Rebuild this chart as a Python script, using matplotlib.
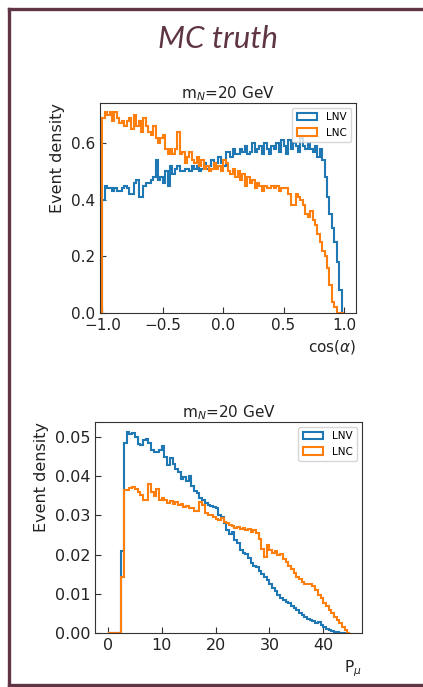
import matplotlib
matplotlib.use("Agg")
import matplotlib.pyplot as plt
import numpy as np
from matplotlib.lines import Line2D

# cos(alpha) histogram, 100 bins from -1 to 1
cos_edges = np.linspace(-1, 1, 101)
cos_lnv = [0.40, 0.45, 0.44, 0.44, 0.43, 0.44, 0.43, 0.43, 0.44, 0.45,
           0.44, 0.42, 0.42, 0.46, 0.47, 0.41, 0.41, 0.45, 0.46, 0.46,
           0.47, 0.48, 0.54, 0.47, 0.48, 0.46, 0.50, 0.45, 0.52, 0.49,
           0.51, 0.52, 0.50, 0.50, 0.51, 0.51, 0.50, 0.52, 0.51, 0.52,
           0.50, 0.51, 0.53, 0.51, 0.52, 0.54, 0.52, 0.53, 0.55, 0.53,
           0.52, 0.57, 0.57, 0.55, 0.58, 0.56, 0.56, 0.58, 0.57, 0.59,
           0.56, 0.57, 0.60, 0.57, 0.58, 0.59, 0.56, 0.60, 0.58, 0.56,
           0.59, 0.58, 0.60, 0.57, 0.61, 0.59, 0.56, 0.61, 0.58, 0.60,
           0.59, 0.57, 0.62, 0.59, 0.58, 0.60, 0.58, 0.57, 0.59, 0.55,
           0.58, 0.54, 0.48, 0.41, 0.35, 0.30, 0.25, 0.18, 0.08, 0.0]
cos_lnc = [0.69, 0.71, 0.70, 0.71, 0.68, 0.71, 0.69, 0.67, 0.68, 0.66,
           0.68, 0.69, 0.65, 0.70, 0.66, 0.68, 0.64, 0.69, 0.66, 0.64,
           0.63, 0.66, 0.62, 0.60, 0.62, 0.63, 0.58, 0.56, 0.58, 0.56,
           0.58, 0.64, 0.56, 0.57, 0.53, 0.55, 0.57, 0.54, 0.53, 0.55,
           0.52, 0.54, 0.51, 0.52, 0.50, 0.51, 0.53, 0.51, 0.52, 0.50,
           0.54, 0.53, 0.50, 0.49, 0.51, 0.48, 0.50, 0.47, 0.49, 0.45,
           0.48, 0.46, 0.47, 0.44, 0.46, 0.45, 0.43, 0.45, 0.44, 0.44,
           0.45, 0.44, 0.45, 0.43, 0.44, 0.44, 0.44, 0.42, 0.38, 0.38,
           0.42, 0.41, 0.40, 0.38, 0.35, 0.34, 0.36, 0.33, 0.31, 0.28,
           0.25, 0.22, 0.20, 0.16, 0.10, 0.04, 0.02, 0.0, 0.0, 0.0]

# muon momentum histogram, 90 bins from 0 to 45
p_edges = np.linspace(0, 45, 91)
p_lnv = [0, 0, 0, 0, 0,
         0.0210, 0.0485, 0.0513, 0.0508, 0.0510, 0.0500, 0.0483, 0.0479, 0.0492, 0.0494,
         0.0485, 0.0466, 0.0462, 0.0462, 0.0466, 0.0478, 0.0450, 0.0428, 0.0445, 0.0430,
         0.0418, 0.0410, 0.0393, 0.0398, 0.0388, 0.0400, 0.0375, 0.0362, 0.0358, 0.0345,
         0.0340, 0.0332, 0.0326, 0.0323, 0.0322, 0.0318, 0.0300, 0.0296, 0.0280, 0.0262,
         0.0252, 0.0258, 0.0236, 0.0230, 0.0212, 0.0203, 0.0201, 0.0192, 0.0178, 0.0172,
         0.0168, 0.0158, 0.0150, 0.0144, 0.0136, 0.0125, 0.0115, 0.0106, 0.0098, 0.0090,
         0.0084, 0.0080, 0.0076, 0.0070, 0.0064, 0.0059, 0.0052, 0.0046, 0.0042, 0.0036,
         0.0032, 0.0030, 0.0026, 0.0027, 0.0020, 0.0016, 0.0010, 0.0007, 0.0004, 0.0003,
         0.0002, 0.0001, 0.0001, 0.0, 0.0]
p_lnc = [0, 0, 0, 0, 0,
         0.0144, 0.0365, 0.0364, 0.0369, 0.0373, 0.0366, 0.0360, 0.0352, 0.0338, 0.0340,
         0.0380, 0.0360, 0.0350, 0.0368, 0.0340, 0.0345, 0.0338, 0.0332, 0.0336, 0.0330,
         0.0333, 0.0326, 0.0330, 0.0322, 0.0325, 0.0318, 0.0320, 0.0312, 0.0310, 0.0334,
         0.0326, 0.0305, 0.0300, 0.0302, 0.0295, 0.0290, 0.0288, 0.0294, 0.0282, 0.0280,
         0.0276, 0.0272, 0.0268, 0.0270, 0.0265, 0.0268, 0.0262, 0.0266, 0.0258, 0.0262,
         0.0255, 0.0240, 0.0215, 0.0195, 0.0225, 0.0212, 0.0205, 0.0210, 0.0198, 0.0202,
         0.0188, 0.0180, 0.0170, 0.0162, 0.0152, 0.0144, 0.0138, 0.0130, 0.0126, 0.0124,
         0.0126, 0.0120, 0.0110, 0.0098, 0.0088, 0.0076, 0.0068, 0.0058, 0.0050, 0.0040,
         0.0034, 0.0025, 0.0016, 0.0008, 0.0]

title_txt = r"m$_N$=20 GeV"
frame_col = "#5f3545"
text_col = "#222222"

fig = plt.figure(figsize=(4.23, 6.87), dpi=100)

fig.text(0.515, 0.930, "MC truth", fontsize=22.5, fontstyle="italic",
         family="Lato", color=frame_col, ha="center", va="baseline")

# frame around the panel
for xs, ys in [([8.5, 423], [678.5, 678.5]), ([8.5, 8.5], [2, 678.5]), ([8.5, 423], [2.5, 2.5])]:
    fig.add_artist(Line2D([x / 423 for x in xs], [y / 687 for y in ys],
                          color=frame_col, lw=2.4, transform=fig.transFigure))


def draw(ax, edges, lnv, lnc, xlim, ylim, xlabel, xticks, yticks, yfmt, tsize):
    ax.hist(edges[:-1], bins=edges, weights=lnv, histtype="step", lw=1.5,
            color="tab:blue", label="LNV")
    ax.hist(edges[:-1], bins=edges, weights=lnc, histtype="step", lw=1.5,
            color="tab:orange", label="LNC")
    ax.set_xlim(*xlim)
    ax.set_ylim(*ylim)
    ax.set_xticks(xticks)
    ax.set_yticks(yticks)
    ax.set_yticklabels([yfmt % v for v in yticks])
    ax.tick_params(direction="in", labelsize=tsize, length=4, labelcolor=text_col,
                   color="#333333")
    for s in ax.spines.values():
        s.set_color("#333333")
    ax.set_title(title_txt, fontsize=11, pad=3, color=text_col)
    ax.set_xlabel(xlabel, fontsize=11, loc="right", color=text_col)
    ax.set_ylabel("Event density", fontsize=11.5, loc="top", color=text_col)
    ax.legend(loc="upper right", fontsize=7.5)


ax1 = fig.add_axes([0.2364, 0.5444, 0.6052, 0.3057])
draw(ax1, cos_edges, cos_lnv, cos_lnc, (-1.02, 1.10), (0, 0.742), r"cos($\alpha$)",
     [-1.0, -0.5, 0.0, 0.5, 1.0], [0.0, 0.2, 0.4, 0.6], "%.1f", 11)

ax2 = fig.add_axes([0.2246, 0.0786, 0.6312, 0.3071])
draw(ax2, p_edges, p_lnv, p_lnc, (-2.4, 47.2), (0, 0.0538), r"P$_\mu$",
     [0, 10, 20, 30, 40], [0.0, 0.01, 0.02, 0.03, 0.04, 0.05], "%.2f", 11.5)

fig.savefig("out.png", dpi=100)
